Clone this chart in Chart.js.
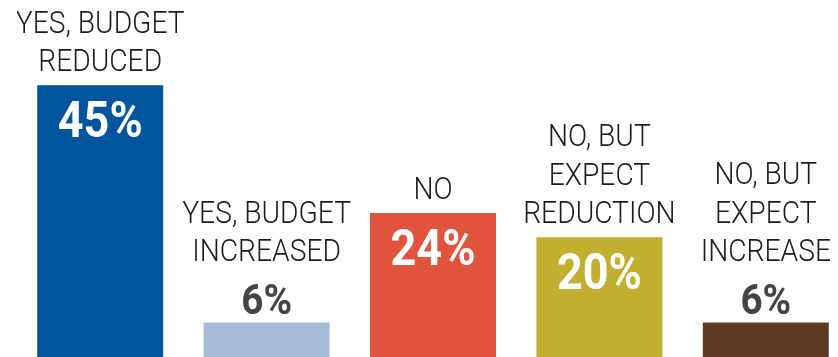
<!DOCTYPE html>
<html>
<head>
<meta charset="utf-8">
<script src="https://cdn.jsdelivr.net/npm/chart.js@4/dist/chart.umd.min.js"></script>
<style>
  html, body { margin: 0; padding: 0; background: #fff; overflow: hidden; }
  #wrap { position: absolute; left: 17px; top: 0; width: 832px; height: 359px; }
</style>
</head>
<body>
<div id="wrap"><canvas id="budget"></canvas></div>
<script>
// Respostas e percentuais
const categorias = [
    ['YES, BUDGET', 'REDUCED'],
    ['YES, BUDGET', 'INCREASED'],
    ['NO'],
    ['NO, BUT', 'EXPECT', 'REDUCTION'],
    ['NO, BUT', 'EXPECT', 'INCREASE']
];
const valores = [45, 6, 24, 20, 6];
const cores = ['#00559f', '#a5bbd6', '#e0533d', '#c2ae2f', '#5e3a22'];

// Fonte estreita: Roboto comprimida na horizontal
function textoEstreito(ctx, texto, x, y, escala) {
    ctx.save();
    ctx.translate(x, y);
    ctx.scale(escala, 1);
    ctx.fillText(texto, 0, 0);
    ctx.restore();
}

// Desenha o rótulo da categoria e o valor de cada barra
const rotulosPlugin = {
    id: 'rotulos',
    afterDatasetsDraw(chart) {
        const ctx = chart.ctx;
        const meta = chart.getDatasetMeta(0);
        ctx.save();
        ctx.textAlign = 'center';
        ctx.textBaseline = 'alphabetic';
        meta.data.forEach((bar, i) => {
            const valor = valores[i];
            const texto = valor + '%';
            const linhas = categorias[i];
            let base; // baseline da última linha da categoria
            if (valor >= 10) {
                ctx.fillStyle = '#ffffff';
                ctx.font = 'bold 50px Roboto';
                textoEstreito(ctx, texto, bar.x, bar.y + 52, 0.9);
                base = bar.y - 14;
            } else {
                ctx.fillStyle = '#444444';
                ctx.font = 'bold 43px Roboto';
                const yValor = bar.y - 8;
                textoEstreito(ctx, texto, bar.x, yValor, 0.9);
                base = yValor - 31 - 22;
            }
            ctx.fillStyle = '#1c1c1c';
            ctx.font = '300 31px Roboto';
            linhas.forEach((linha, j) => {
                const y = base - (linhas.length - 1 - j) * 38.5;
                textoEstreito(ctx, linha, bar.x, y, 0.91);
            });
        });
        ctx.restore();
    }
};

const config = {
    type: 'bar',
    data: {
        labels: categorias,
        datasets: [{
            data: valores,
            backgroundColor: cores,
            borderWidth: 0,
            categoryPercentage: 1,
            barPercentage: 0.757
        }]
    },
    options: {
        responsive: true,
        maintainAspectRatio: false,
        animation: false,
        layout: { padding: 0 },
        plugins: {
            legend: { display: false },
            tooltip: { enabled: false }
        },
        scales: {
            x: { display: false },
            y: { display: false, min: 0, max: 59 }
        }
    },
    plugins: [rotulosPlugin]
};

new Chart(document.getElementById('budget'), config);
</script>
</body>
</html>
